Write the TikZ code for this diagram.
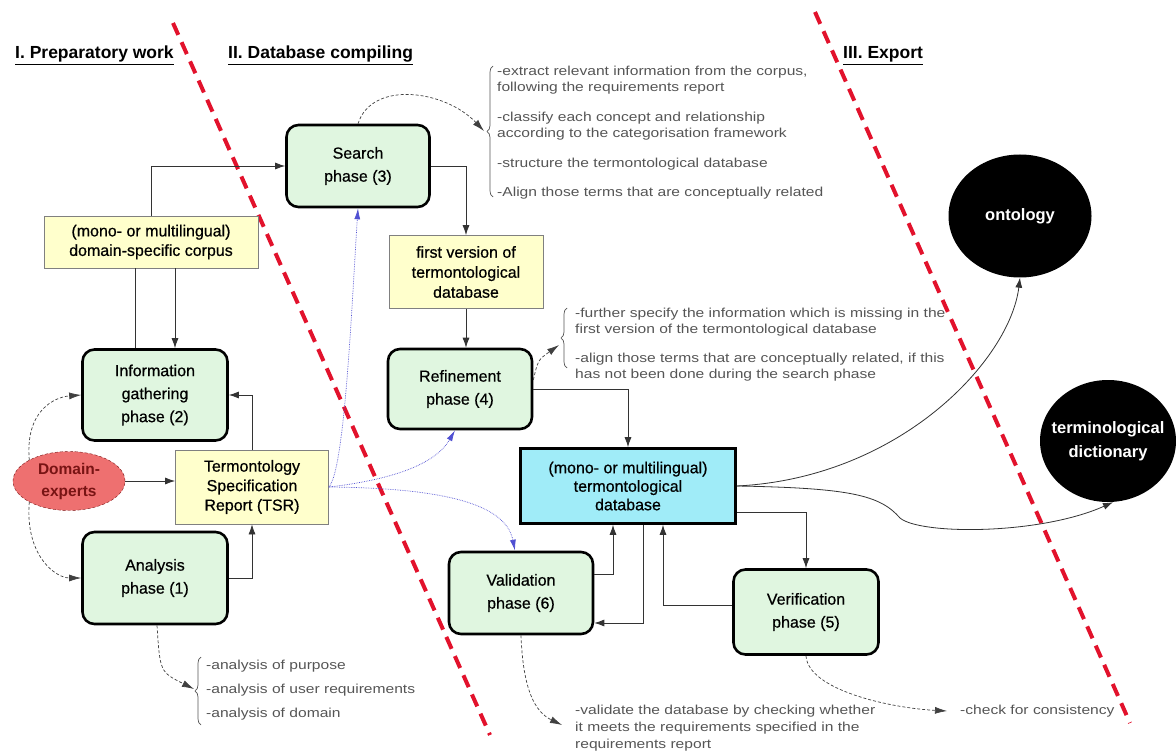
\documentclass[tikz,border=0pt]{standalone}
\usepackage{fontspec}
\setmainfont{Liberation Sans}
\newfontfamily\descfont[FakeStretch=1.2]{Liberation Sans}
\newfontfamily\boxfont[FakeBold=0.6]{Liberation Sans}
\usetikzlibrary{arrows.meta,shapes.geometric,decorations.pathreplacing}
\definecolor{phasegreen}{RGB}{224,246,224}
\definecolor{noteyellow}{RGB}{255,255,204}
\definecolor{dbcyan}{RGB}{160,236,248}
\definecolor{expertred}{RGB}{238,112,112}
\definecolor{expertdark}{RGB}{120,20,20}
\definecolor{divred}{RGB}{226,18,44}
\definecolor{notegray}{RGB}{85,85,85}
\definecolor{linkblue}{RGB}{80,80,210}

\begin{document}
\begin{tikzpicture}[x=1pt,y=-1pt,
    phase/.style={draw,line width=2.6pt,rounded corners=12pt,fill=phasegreen,
      align=center,font=\boxfont\fontsize{16}{23}\selectfont},
    paper/.style={draw=gray,line width=0.8pt,fill=noteyellow,align=center,
      font=\boxfont\fontsize{16}{19.5}\selectfont},
    product/.style={ellipse,fill=black,text=white,align=center,
      font=\bfseries\fontsize{16.5}{24}\selectfont},
    note/.style={anchor=north west,inner sep=0pt,align=left,text=notegray,
      font=\descfont\fontsize{13}{16}\selectfont},
    heading/.style={anchor=base west,inner sep=0pt,font=\bfseries\fontsize{17.5}{20}\selectfont},
    divider/.style={draw=divred,line width=4pt,dash pattern=on 13pt off 8pt},
    flow/.style={draw=black!80,line width=0.8pt,-{Latex[length=10pt,width=7pt]}},
    plain/.style={draw=black!80,line width=0.8pt},
    hint/.style={draw=black!75,line width=0.7pt,densely dashed,-{Latex[length=12pt,width=7pt]}},
    feed/.style={draw=linkblue,line width=0.7pt,densely dotted,-{Latex[length=11pt,width=6pt]}},
    bracket/.style={draw=notegray,line width=0.7pt,decorate,decoration={brace,amplitude=6pt}}]
  \useasboundingbox (0,0) rectangle (1176,754);
  % Trennlinien zwischen den Abschnitten
  \draw[divider] (173,23) -- (490,735);
  \draw[divider] (815,12) -- (1130,723);
  % Ueberschriften
  \node[heading] (prep) at (15,59) {\underline{I. Preparatory work}};
  \node[heading] (compile) at (228,59) {\underline{II. Database compiling}};
  \node[heading] (export) at (843,59) {\underline{III. Export}};
  % Phasen und Dokumente
  \node[phase,minimum width=143,minimum height=82] (search) at (358,166) {Search\\phase (3)};
  \node[paper,minimum width=214,minimum height=52] (corpus) at (151,242) {(mono- or multilingual)\\domain-specific corpus};
  \node[phase,minimum width=145,minimum height=91] (info) at (155,395) {Information\\gathering\\phase (2)};
  \node[ellipse,draw=expertdark,densely dashed,fill=expertred,text=expertdark,
    minimum width=112,minimum height=59,inner sep=0pt,align=center,
    font=\bfseries\fontsize{15.5}{22}\selectfont] (experts) at (69,481) {Domain-\\experts};
  \node[paper,minimum width=153,minimum height=74] (tsr) at (252,487) {Termontology\\Specification\\Report (TSR)};
  \node[phase,minimum width=145,minimum height=92] (analysis) at (155,578) {Analysis\\phase (1)};
  \node[paper,minimum width=154,minimum height=73,font=\boxfont\fontsize{16}{20}\selectfont] (first) at (466,272) {first version of\\termontological\\database};
  \node[phase,minimum width=144,minimum height=80] (refine) at (460,389) {Refinement\\phase (4)};
  \node[draw,line width=2.6pt,fill=dbcyan,align=center,minimum width=215,minimum height=75,
    font=\boxfont\fontsize{16}{18.5}\selectfont] (db) at (628,486) {(mono- or multilingual)\\termontological\\database};
  \node[phase,minimum width=144,minimum height=82] (valid) at (521,593) {Validation\\phase (6)};
  \node[phase,minimum width=145,minimum height=85] (verify) at (806,612) {Verification\\phase (5)};
  \node[product,minimum width=143,minimum height=123] (onto) at (1020,216) {ontology};
  \node[product,inner xsep=-9pt,minimum width=136,minimum height=122] (dict) at (1108,441) {terminological\\dictionary};
  % Erlaeuterungen
  \node[note] (searchnote) at (497,65.5) {-extract relevant information from the corpus,\\following the requirements report\\[14pt]-classify each concept and relationship\\according to the categorisation framework\\[14pt]-structure the termontological database\\[13pt]-Align those terms that are conceptually related};
  \node[note] (refinenote) at (575,307.5) {-further specify the information which is missing in the\\first version of the termontological database\\[13pt]-align those terms that are conceptually related, if this\\has not been done during the search phase};
  \node[note] (analysisnote) at (206,659.5) {-analysis of purpose\\[8pt]-analysis of user requirements\\[8pt]-analysis of domain};
  \node[note] (validnote) at (575,704.5) {-validate the database by checking whether\\[1pt]it meets the requirements specified in the\\[1pt]requirements report};
  \node[note] (verifynote) at (960,704.5) {-check for consistency};
  \draw[bracket] (493,197) -- (493,66);
  \draw[bracket] (567,368) -- (567,308);
  \draw[bracket] (201,725) -- (201,657);
  \coordinate (searchtip) at (484,131);
  \coordinate (refinetip) at (559,345);
  \coordinate (analysistip) at (194,689);
  \coordinate (validtip) at (562,725);
  \coordinate (verifytip) at (947,711);
  % gestrichelte Hinweise
  \draw[hint] (search.north) .. controls (372,80) and (445,90) .. (searchtip);
  \draw[hint] ([yshift=9pt]refine.east) .. controls (538,360) .. (refinetip);
  \draw[hint] ([xshift=2pt]analysis.south) .. controls (160,672) .. (analysistip);
  \draw[hint] (valid.south) .. controls (523,690) and (535,712) .. (validtip);
  \draw[hint] (verify.south) .. controls (808,690) and (890,708) .. (verifytip);
  \draw[hint] (experts.north west) .. controls (25,410) and (55,397) .. (info.west);
  \draw[hint] (experts.south west) .. controls (25,555) and (55,578) .. (analysis.west);
  % TSR an die Phasen
  \draw[feed] (tsr.east) .. controls (345,470) and (352,300) .. (search.south);
  \draw[feed] (tsr.east) .. controls (390,480) and (435,465) .. ([xshift=-5pt]refine.south);
  \draw[feed] (tsr.east) .. controls (430,488) and (505,500) .. ([xshift=-6pt]valid.north);
  % Arbeitsfluss
  \draw[plain] ([xshift=-20pt]info.north) -- ([xshift=-20pt]info.north |- corpus.south);
  \draw[flow] ([xshift=20pt]info.north |- corpus.south) -- ([xshift=20pt]info.north);
  \draw[flow] (corpus.north) |- (search.west);
  \draw[flow] (experts) -- (experts -| tsr.west);
  \draw[flow] (tsr.north) |- (info.east);
  \draw[flow] (analysis.east) -| (tsr.south);
  \draw[flow] (search.east) -| (first.north);
  \draw[flow] (first.south) -- (first.south |- refine.north);
  \draw[flow] (refine.east) -| (db.north);
  \draw[flow] ([yshift=-26pt]db.east) -| (verify.north);
  \draw[flow] ([yshift=7pt]verify.west) -| ([xshift=35pt]db.south);
  \draw[flow] ([yshift=19pt]valid.east) -| ([xshift=-15pt]db.south);
  \draw[flow] ([xshift=15pt]db.south) |- ([yshift=-30pt]valid.east);
  % Export
  \draw[flow] (db.east) .. controls (900,478) and (1010,360) .. (onto.south);
  \draw[flow] (db.east) .. controls (850,488) and (880,495) .. (900,518)
    .. controls (920,535) and (1040,535) .. ([xshift=5pt]dict.south);
\end{tikzpicture}
\end{document}
